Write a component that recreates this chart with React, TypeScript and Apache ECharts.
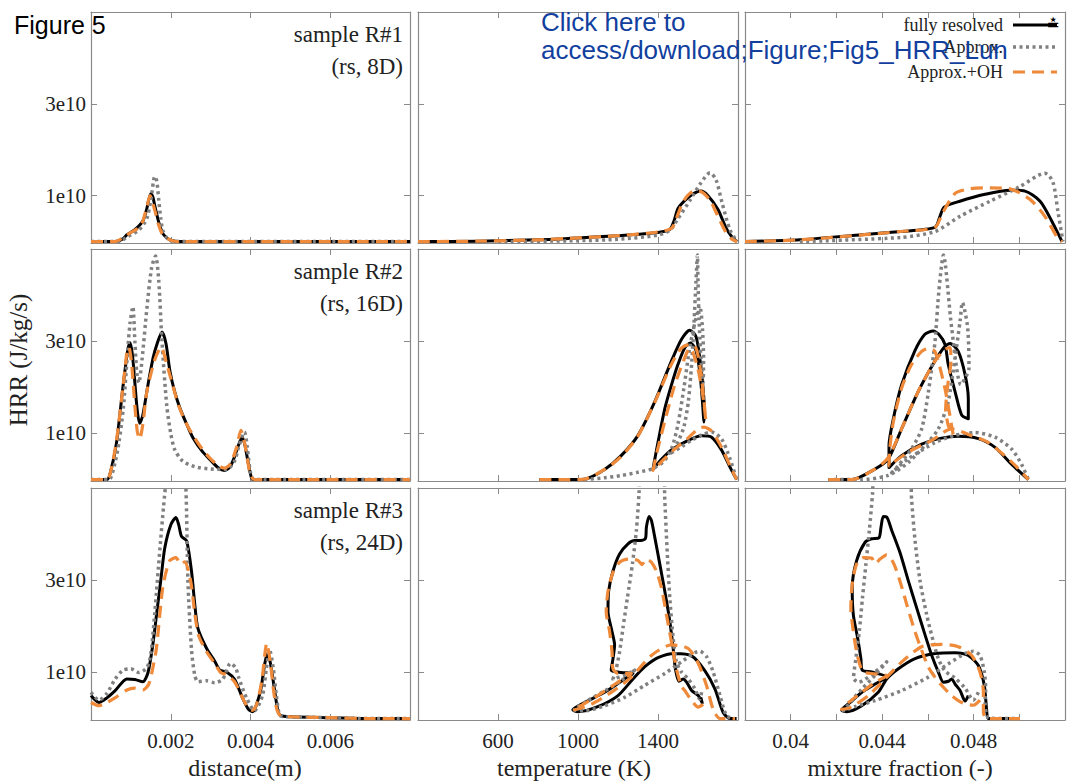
import React, { useEffect, useRef } from "react";
import * as echarts from "echarts";

type P = [number, number];

// HRR values below are written in units of 1e10 J/kg/s
const HRR_UNIT = 1e10;

// ---------- sample R#1 ----------
const r1DistFull: P[] = [[0,0],[0.0006,0],[0.0008,0.06],[0.0009,0.15],[0.0011,0.26],[0.0013,0.45],[0.0014,0.72],[0.0015,1.05],[0.00155,0.98],[0.0016,0.78],[0.0017,0.42],[0.0018,0.18],[0.0019,0.08],[0.002,0.03],[0.0022,0],[0.008,0]];
const r1DistApprox: P[] = [[0,0],[0.0007,0],[0.0009,0.1],[0.0012,0.25],[0.0014,0.5],[0.0015,0.9],[0.0016,1.42],[0.00165,1.32],[0.0017,0.9],[0.00175,0.5],[0.0018,0.25],[0.0019,0.08],[0.002,0.02],[0.0022,0],[0.008,0]];
const r1DistOH: P[] = [[0,0],[0.0006,0],[0.0008,0.08],[0.001,0.2],[0.0012,0.3],[0.0013,0.45],[0.0014,0.75],[0.00148,1.0],[0.0016,0.68],[0.0017,0.35],[0.0018,0.15],[0.002,0.03],[0.0022,0],[0.008,0]];

const r1TempFull: P[] = [[200,0],[500,0.01],[800,0.04],[1000,0.08],[1200,0.13],[1400,0.2],[1460,0.27],[1480,0.45],[1500,0.72],[1540,0.92],[1580,1.05],[1614,1.1],[1650,1.0],[1700,0.7],[1740,0.3],[1770,0.1],[1795,0]];
const r1TempApprox: P[] = [[600,0],[1000,0.02],[1200,0.05],[1400,0.14],[1460,0.25],[1500,0.5],[1560,0.9],[1610,1.25],[1660,1.5],[1690,1.35],[1720,0.85],[1760,0.25],[1795,0]];
const r1TempOH: P[] = [[200,0],[500,0.01],[800,0.04],[1000,0.08],[1200,0.13],[1400,0.21],[1470,0.3],[1500,0.6],[1530,0.9],[1580,1.1],[1620,1.08],[1660,0.9],[1700,0.55],[1740,0.2],[1770,0.05],[1795,0]];

const r1ZFull: P[] = [[0.038,0],[0.0404,0.04],[0.0426,0.13],[0.0448,0.22],[0.04631,0.31],[0.04653,0.55],[0.04671,0.75],[0.0474,0.88],[0.0485,1.03],[0.04959,1.12],[0.05025,1.1],[0.05091,0.88],[0.05143,0.44],[0.05187,0]];
const r1ZApprox: P[] = [[0.0404,0],[0.0448,0.09],[0.04631,0.22],[0.0474,0.55],[0.04872,0.88],[0.05003,1.2],[0.05112,1.49],[0.05147,1.3],[0.05169,0.66],[0.05191,0]];
const r1ZOH: P[] = [[0.038,0],[0.0404,0.04],[0.0448,0.22],[0.04631,0.31],[0.04662,0.6],[0.04719,1.05],[0.04784,1.15],[0.04872,1.17],[0.04959,1.15],[0.05047,0.92],[0.05112,0.55],[0.05169,0.07],[0.05187,0]];

// ---------- sample R#2 ----------
const r2DistFull: P[] = [[0,0],[0.0004,0],[0.0005,0.2],[0.00064,0.8],[0.0008,2.0],[0.00092,2.8],[0.00098,2.97],[0.00104,2.7],[0.0011,2.1],[0.00116,1.5],[0.00122,1.22],[0.0013,1.4],[0.00143,2.06],[0.00156,2.65],[0.00166,2.95],[0.00178,3.2],[0.00188,2.95],[0.00198,2.35],[0.0021,1.9],[0.00223,1.55],[0.0024,1.2],[0.00256,0.9],[0.0028,0.6],[0.003,0.42],[0.0032,0.25],[0.00335,0.2],[0.00348,0.27],[0.00358,0.45],[0.0037,0.75],[0.00379,0.92],[0.00386,0.75],[0.00393,0.42],[0.004,0.12],[0.00406,0],[0.008,0]];
const r2DistApprox: P[] = [[0,0],[0.00045,0],[0.0005,0.05],[0.0006,0.35],[0.0007,0.8],[0.00081,1.54],[0.00092,2.8],[0.00098,3.4],[0.00105,3.75],[0.0011,3.0],[0.00115,2.3],[0.0012,2.1],[0.00128,2.6],[0.0014,3.7],[0.00152,4.6],[0.00162,4.85],[0.0017,4.3],[0.00178,3.0],[0.0019,1.6],[0.002,1.0],[0.0021,0.65],[0.0023,0.4],[0.0026,0.28],[0.003,0.23],[0.0034,0.22],[0.0036,0.4],[0.0037,0.7],[0.00385,1.03],[0.00392,0.7],[0.004,0.15],[0.0041,0],[0.008,0]];
const r2DistOH: P[] = [[0,0],[0.0004,0],[0.0005,0.2],[0.00064,0.85],[0.0008,2.0],[0.0009,2.75],[0.00095,2.87],[0.00102,2.5],[0.0011,1.6],[0.00116,1.05],[0.00122,0.88],[0.0013,1.2],[0.0014,1.9],[0.0016,2.6],[0.00176,2.87],[0.0019,2.5],[0.002,2.2],[0.0022,1.6],[0.0024,1.2],[0.0026,0.9],[0.0028,0.65],[0.003,0.45],[0.0032,0.3],[0.00335,0.25],[0.0035,0.35],[0.00365,0.7],[0.00376,1.07],[0.00385,0.8],[0.00393,0.4],[0.004,0.1],[0.0041,0],[0.008,0]];

const r2TempFull: P[] = [[807,0],[950,0],[1032,0.01],[1133,0.22],[1216,0.52],[1300,0.96],[1384,1.69],[1467,2.57],[1517,3.04],[1559,3.24],[1590,3.1],[1610,2.6],[1625,2.0],[1632,1.5],[1630,1.25],[1622,1.7],[1610,2.3],[1590,2.8],[1562,2.96],[1534,2.86],[1500,2.5],[1467,2.05],[1434,1.54],[1400,0.81],[1382,0.4],[1375,0.23],[1420,0.45],[1467,0.64],[1551,0.85],[1618,0.95],[1668,0.92],[1718,0.64],[1760,0.27],[1793,0]];
const r2TempApprox: P[] = [[1032,0],[1133,0.04],[1216,0.09],[1300,0.16],[1375,0.24],[1430,0.4],[1470,0.7],[1500,1.2],[1530,2.0],[1560,2.9],[1590,3.5],[1609,3.77],[1622,3.3],[1628,2.6],[1625,2.1],[1615,2.6],[1605,3.5],[1600,4.3],[1597,4.87],[1590,4.3],[1580,3.4],[1568,2.5],[1552,1.7],[1530,1.15],[1500,0.82],[1467,0.58],[1520,0.72],[1570,0.86],[1620,0.97],[1668,1.03],[1718,0.88],[1760,0.45],[1793,0]];
const r2TempOH: P[] = [[807,0],[950,0],[1032,0.01],[1133,0.22],[1216,0.5],[1300,0.95],[1384,1.68],[1467,2.5],[1517,2.85],[1559,2.93],[1590,2.85],[1615,2.3],[1630,1.7],[1639,1.29],[1625,1.8],[1600,2.4],[1575,2.75],[1559,2.85],[1530,2.6],[1480,2.0],[1430,1.2],[1395,0.6],[1380,0.3],[1375,0.2],[1420,0.4],[1480,0.65],[1550,0.9],[1600,1.1],[1630,1.14],[1668,1.05],[1718,0.7],[1760,0.3],[1793,0]];

const r2ZFull: P[] = [[0.04165,0],[0.04267,0],[0.04369,0.23],[0.04427,0.45],[0.04485,1.1],[0.04558,1.91],[0.04631,2.57],[0.04675,2.89],[0.04697,2.95],[0.04733,2.78],[0.04763,2.27],[0.04777,1.75],[0.04777,1.32],[0.04748,1.4],[0.04719,1.91],[0.04689,2.5],[0.04675,2.93],[0.04648,3.15],[0.04623,3.22],[0.04587,3.15],[0.04543,2.79],[0.04485,2.05],[0.04449,1.32],[0.0443,0.74],[0.0443,0.26],[0.04485,0.52],[0.04573,0.77],[0.0466,0.9],[0.04733,0.94],[0.04821,0.89],[0.04894,0.7],[0.04967,0.33],[0.0504,0]];
const r2ZApprox: P[] = [[0.0419,0],[0.04305,0],[0.04427,0.09],[0.04514,0.37],[0.04587,0.74],[0.04646,1.1],[0.04689,1.69],[0.04719,2.64],[0.04741,3.44],[0.04751,3.84],[0.04774,3.3],[0.0478,2.42],[0.04744,2.06],[0.04704,3.3],[0.04668,4.87],[0.04648,4.08],[0.04631,2.98],[0.04602,1.89],[0.04573,1.1],[0.04529,0.67],[0.0447,0.3],[0.04442,0.15],[0.04514,0.45],[0.04631,0.8],[0.04719,0.96],[0.04806,1.02],[0.04894,0.92],[0.04967,0.66],[0.0501,0.33],[0.0504,0]];
const r2ZOH: P[] = [[0.04165,0],[0.04267,0],[0.04369,0.23],[0.04427,0.48],[0.04485,1.1],[0.04558,1.91],[0.04631,2.57],[0.04675,2.82],[0.04697,2.86],[0.04701,2.57],[0.04687,2.05],[0.04678,1.54],[0.04689,1.18],[0.04711,0.96],[0.04675,1.97],[0.04631,2.78],[0.04602,2.84],[0.04573,2.78],[0.04529,2.5],[0.04485,1.98],[0.04449,1.25],[0.04434,0.7],[0.0443,0.3],[0.04515,0.6],[0.04617,0.85],[0.04704,1.1],[0.04777,0.98],[0.04865,0.8],[0.04967,0.38],[0.0504,0]];

// ---------- sample R#3 ----------
const r3DistFull: P[] = [[0,0.5],[0.0002,0.35],[0.0004,0.45],[0.0006,0.6],[0.0009,0.86],[0.0011,0.85],[0.0013,0.8],[0.00143,1.0],[0.00155,1.6],[0.00165,2.3],[0.00175,3.0],[0.00185,3.7],[0.002,4.2],[0.00213,4.36],[0.0022,4.2],[0.00227,3.95],[0.0024,3.85],[0.00252,3.2],[0.0026,2.5],[0.00268,1.96],[0.0029,1.52],[0.0031,1.25],[0.00323,1.05],[0.0034,1.01],[0.0036,0.85],[0.0038,0.45],[0.00395,0.2],[0.00406,0.15],[0.00415,0.3],[0.00426,0.64],[0.00436,1.2],[0.00443,1.41],[0.0045,1.2],[0.0046,0.64],[0.00468,0.2],[0.00475,0.07],[0.005,0.04],[0.006,0.02],[0.007,0],[0.008,0]];
const r3DistApprox: P[] = [[0,0.57],[0.0002,0.4],[0.0004,0.55],[0.0006,0.85],[0.0008,1.05],[0.001,1.08],[0.0012,1.0],[0.0014,1.1],[0.0015,1.4],[0.0016,2.3],[0.00173,3.7],[0.00182,4.6],[0.0019,5.3],[0.002,5.9],[0.00215,6.1],[0.0023,5.8],[0.00238,5.0],[0.00243,3.0],[0.00252,1.5],[0.0026,0.95],[0.00268,0.8],[0.0029,0.82],[0.0031,0.78],[0.0033,0.85],[0.0035,1.2],[0.00363,1.1],[0.0037,0.9],[0.0039,0.45],[0.0041,0.17],[0.0043,0.5],[0.0044,1.1],[0.00448,1.49],[0.00457,1.1],[0.00465,0.5],[0.00475,0.06],[0.005,0.04],[0.006,0.02],[0.007,0],[0.008,0]];
const r3DistOH: P[] = [[0,0.35],[0.0002,0.28],[0.0004,0.35],[0.0006,0.45],[0.0009,0.62],[0.0011,0.66],[0.0013,0.62],[0.00145,0.75],[0.00155,1.1],[0.00164,1.52],[0.0018,2.84],[0.00197,3.42],[0.00213,3.49],[0.00225,3.35],[0.00235,3.4],[0.0025,2.98],[0.0026,2.3],[0.0027,1.8],[0.0029,1.45],[0.0031,1.2],[0.00325,1.0],[0.0034,0.95],[0.0036,0.8],[0.0038,0.45],[0.00395,0.22],[0.00405,0.18],[0.00415,0.3],[0.00428,0.8],[0.00441,1.63],[0.0045,1.2],[0.00458,0.6],[0.00466,0.2],[0.00475,0.07],[0.005,0.04],[0.006,0.02],[0.007,0],[0.008,0]];

const r3TempFull: P[] = [[1614,0.46],[1621,0.34],[1601,0.5],[1568,0.61],[1543,0.79],[1526,0.86],[1504,0.81],[1487,1.08],[1476,1.52],[1459,2.11],[1434,2.76],[1409,3.35],[1384,3.93],[1367,4.3],[1355,4.38],[1342,4.15],[1337,3.9],[1308,3.86],[1283,3.86],[1250,3.79],[1208,3.57],[1175,3.2],[1153,2.76],[1150,2.32],[1170,1.89],[1183,1.6],[1175,1.3],[1166,1.05],[1216,1.0],[1275,0.98],[1233,0.86],[1133,0.57],[1033,0.35],[974,0.19],[999,0.15],[1099,0.26],[1200,0.5],[1275,0.86],[1333,1.12],[1400,1.32],[1484,1.41],[1568,1.36],[1634,1.04],[1685,0.64],[1726,0.13],[1760,0],[1793,0]];
const r3TempApprox: P[] = [[1618,0.57],[1609,0.42],[1584,0.65],[1551,0.86],[1517,1.01],[1492,1.23],[1476,1.74],[1459,2.62],[1445,3.71],[1434,4.74],[1425,5.6],[1370,6.05],[1313,5.6],[1305,4.88],[1292,4.08],[1272,3.35],[1247,2.62],[1225,1.97],[1208,1.45],[1191,1.08],[1175,0.86],[1233,0.94],[1283,1.05],[1216,0.82],[1133,0.6],[1049,0.39],[982,0.19],[1033,0.17],[1133,0.28],[1233,0.46],[1333,0.72],[1434,0.98],[1517,1.23],[1584,1.43],[1609,1.46],[1643,1.34],[1676,1.01],[1710,0.5],[1743,0.06],[1785,0]];
const r3TempOH: P[] = [[1626,0.31],[1601,0.25],[1559,0.45],[1534,0.61],[1517,0.7],[1492,1.08],[1467,1.67],[1442,2.26],[1417,2.84],[1392,3.2],[1367,3.39],[1342,3.46],[1320,3.34],[1300,3.43],[1250,3.46],[1208,3.39],[1175,3.17],[1150,2.76],[1141,2.32],[1158,1.89],[1170,1.45],[1175,1.08],[1200,0.98],[1267,0.98],[1200,0.79],[1099,0.5],[999,0.24],[974,0.18],[1066,0.31],[1166,0.57],[1267,0.9],[1367,1.37],[1467,1.6],[1551,1.52],[1601,1.2],[1643,0.71],[1676,0.2],[1710,0],[1785,0]];

const r3ZFull: P[] = [[0.04777,0.5],[0.04763,0.38],[0.04741,0.61],[0.04719,0.75],[0.04704,0.86],[0.0469,0.81],[0.04668,0.79],[0.04646,1.01],[0.04617,1.37],[0.04588,1.81],[0.04551,2.4],[0.04515,2.98],[0.04478,3.6],[0.04442,4.08],[0.0442,4.37],[0.04405,4.38],[0.04395,4.15],[0.04386,3.92],[0.04354,3.9],[0.04325,3.82],[0.04288,3.42],[0.04269,2.84],[0.04274,2.25],[0.04293,1.74],[0.04307,1.3],[0.04313,1.05],[0.04354,1.01],[0.0442,0.9],[0.04369,0.75],[0.04311,0.57],[0.0426,0.35],[0.04223,0.18],[0.04245,0.15],[0.04311,0.28],[0.04383,0.57],[0.0442,0.86],[0.04471,1.08],[0.04544,1.3],[0.04631,1.41],[0.04719,1.43],[0.04777,1.37],[0.04821,1.15],[0.04847,0.72],[0.04857,0.2],[0.04865,0],[0.04923,0],[0.05003,0]];
const r3ZApprox: P[] = [[0.04821,0.57],[0.04799,0.4],[0.04763,0.66],[0.04719,0.88],[0.04675,1.03],[0.04646,1.3],[0.04624,1.67],[0.04595,2.25],[0.04566,2.98],[0.04544,3.86],[0.04529,4.74],[0.04518,5.6],[0.04442,6.2],[0.04367,5.6],[0.04358,4.88],[0.04344,4.08],[0.04329,3.35],[0.04314,2.62],[0.043,1.89],[0.04285,1.3],[0.04275,0.88],[0.04296,0.79],[0.04369,1.01],[0.0442,1.23],[0.04369,0.94],[0.04311,0.64],[0.0426,0.35],[0.0423,0.17],[0.04281,0.26],[0.04369,0.39],[0.04486,0.61],[0.04602,0.9],[0.0469,1.19],[0.04763,1.41],[0.04799,1.46],[0.04828,1.37],[0.04847,1.01],[0.04853,0.64],[0.0485,0.35],[0.04865,0.02],[0.04923,0],[0.05003,0]];
const r3ZOH: P[] = [[0.04828,0.4],[0.04799,0.29],[0.04748,0.35],[0.04704,0.5],[0.04668,0.68],[0.04631,0.9],[0.04602,1.12],[0.04573,1.48],[0.04544,1.88],[0.04508,2.47],[0.04478,2.98],[0.04449,3.38],[0.0442,3.55],[0.04391,3.46],[0.04371,3.36],[0.04354,3.48],[0.04318,3.49],[0.04288,3.35],[0.04269,2.9],[0.04263,2.39],[0.04274,1.89],[0.04288,1.45],[0.04303,1.16],[0.04318,1.01],[0.04369,0.97],[0.0442,0.93],[0.04369,0.79],[0.04311,0.57],[0.04253,0.35],[0.04223,0.2],[0.0426,0.24],[0.0434,0.5],[0.04413,0.86],[0.04486,1.23],[0.04573,1.56],[0.0466,1.61],[0.04733,1.56],[0.04792,1.37],[0.04828,1.01],[0.04843,0.57],[0.04843,0.13],[0.04857,0],[0.04923,0],[0.05003,0]];

// ---------- labels ----------
const seriesNames = ["fully resolved", "Approx.", "Approx.+OH"];
const sampleTitles = [["sample R#1", "(rs, 8D)"], ["sample R#2", "(rs, 16D)"], ["sample R#3", "(rs, 24D)"]];
const xNames = ["distance(m)", "temperature (K)", "mixture fraction (-)"];
const yName = "HRR (J/kg/s)";
const yTickValues = [1e10, 3e10];
const zTickLabels = [0.04, 0.044, 0.048];

const panelData: P[][][][] = [
  [[r1DistFull, r1DistApprox, r1DistOH], [r1TempFull, r1TempApprox, r1TempOH], [r1ZFull, r1ZApprox, r1ZOH]],
  [[r2DistFull, r2DistApprox, r2DistOH], [r2TempFull, r2TempApprox, r2TempOH], [r2ZFull, r2ZApprox, r2ZOH]],
  [[r3DistFull, r3DistApprox, r3DistOH], [r3TempFull, r3TempApprox, r3TempOH], [r3ZFull, r3ZApprox, r3ZOH]],
];

// ---------- layout / style ----------
const COL_LEFT = [91, 418, 745];
const COL_W = [319, 320, 320];
const ROW_TOP = [12, 249, 488];
const ROW_H = [231, 232, 232];
const FRAME = "#8a8a8a";
const SERIF = "Liberation Serif";
const SANS = "Liberation Sans";
const LINE_STYLES = [
  { color: "#000000", width: 3, type: "solid" as any },
  { color: "#808080", width: 3.5, type: [3, 3.5] as any },
  { color: "#ee8a3a", width: 3.2, type: [12, 7] as any },
];

const xCfg = [
  { min: 0, max: 0.008, interval: 0.002, fmt: (v: number) => v.toFixed(3) },
  { min: 200, max: 1800, interval: 400, fmt: (v: number) => String(Math.round(v)) },
  {
    min: 0.038, max: 0.052, interval: 0.002,
    fmt: (v: number) => {
      const hit = zTickLabels.find((t) => Math.abs(t - v) < 1e-7);
      return hit === undefined ? "" : String(hit);
    },
  },
];

function buildOption() {
  const grid: any[] = [];
  const xAxis: any[] = [];
  const yAxis: any[] = [];
  const series: any[] = [];
  for (let r = 0; r < 3; r++) {
    for (let c = 0; c < 3; c++) {
      const g = r * 3 + c;
      grid.push({ left: COL_LEFT[c], top: ROW_TOP[r], width: COL_W[c], height: ROW_H[r], containLabel: false });
      const cfg = xCfg[c];
      const tick = { show: true, inside: true, length: 6, lineStyle: { color: FRAME, width: 1 } };
      const line = { show: true, onZero: false, lineStyle: { color: FRAME, width: 1.2 } };
      for (const pos of ["bottom", "top"]) {
        xAxis.push({
          type: "value", gridIndex: g, position: pos, min: cfg.min, max: cfg.max, interval: cfg.interval,
          axisLine: line, axisTick: tick, splitLine: { show: false },
          axisLabel: {
            show: pos === "bottom" && r === 2, showMinLabel: false, showMaxLabel: false,
            formatter: cfg.fmt, fontFamily: SERIF, fontSize: 21, color: "#222", margin: 10,
          },
        });
      }
      for (const pos of ["left", "right"]) {
        yAxis.push({
          type: "value", gridIndex: g, position: pos, min: -0.03 * HRR_UNIT, max: 5 * HRR_UNIT,
          axisLine: line, splitLine: { show: false },
          axisTick: { ...tick, customValues: yTickValues },
          axisLabel: {
            show: pos === "left" && c === 0, customValues: yTickValues,
            formatter: (v: number) => `${Math.round(v / HRR_UNIT)}e10`,
            fontFamily: SERIF, fontSize: 21, color: "#222", margin: 5,
          },
        });
      }
      panelData[r][c].forEach((pts, k) => {
        series.push({
          type: "line", name: seriesNames[k], xAxisIndex: g * 2, yAxisIndex: g * 2,
          data: pts.map(([x, y]) => [x, y * HRR_UNIT]),
          showSymbol: false, symbol: "none", smooth: 0.25, clip: true,
          lineStyle: { ...LINE_STYLES[k], cap: "butt", join: "round" }, z: 2 + k,
        });
      });
    }
  }

  const graphic: any[] = [];
  const text = (x: number, y: number, t: string, o: any = {}) => ({
    type: "text", x, y, silent: true, z: o.z ?? 50, rotation: o.rotation ?? 0,
    style: {
      text: t, fill: o.fill ?? "#222", fontFamily: o.font ?? SERIF, fontSize: o.size ?? 22,
      textAlign: o.align ?? "left", textVerticalAlign: "middle",
    },
  });
  // sample annotations
  for (let r = 0; r < 3; r++) {
    graphic.push(text(403, ROW_TOP[r] + 22, sampleTitles[r][0], { align: "right", size: 23 }));
    graphic.push(text(403, ROW_TOP[r] + 54, sampleTitles[r][1], { align: "right", size: 23 }));
  }
  // axis names
  const xNameCenters = [245, 574, 900];
  xNames.forEach((n, i) => graphic.push(text(xNameCenters[i], 768, n, { align: "center", size: 24 })));
  graphic.push(text(18, 360, yName, { align: "center", size: 25, rotation: Math.PI / 2 }));
  // legend
  const legendY = [25, 47, 72];
  seriesNames.forEach((n, k) => {
    graphic.push(text(1003, legendY[k], n, { align: "right", size: 18 }));
    graphic.push({
      type: "line", silent: true, z: 50,
      shape: { x1: 1013, y1: legendY[k], x2: 1057, y2: legendY[k] },
      style: { stroke: LINE_STYLES[k].color, lineWidth: LINE_STYLES[k].width, lineDash: k === 0 ? null : LINE_STYLES[k].type },
    });
  });
  graphic.push(text(1053, 24, "≛", { font: "DejaVu Sans", size: 16, fill: "#000", align: "center", z: 55 }));
  // figure label and overlaid link text
  graphic.push(text(14, 25, "Figure 5", { font: SANS, size: 25, fill: "#000", z: 60 }));
  graphic.push(text(541, 22, "Click here to", { font: SANS, size: 26, fill: "#123f9e", z: 60 }));
  graphic.push(text(541, 50, "access/download;Figure;Fig5_HRR_Lun", { font: SANS, size: 26, fill: "#123f9e", z: 60 }));

  return { animation: false, backgroundColor: "#ffffff", grid, xAxis, yAxis, series, graphic };
}

export default function App() {
  const ref = useRef<HTMLDivElement>(null);
  useEffect(() => {
    if (!ref.current) return;
    const chart = echarts.init(ref.current, undefined, { renderer: "svg" });
    chart.setOption(buildOption() as any);
    return () => chart.dispose();
  }, []);
  return (
    <div
      ref={ref}
      style={{ position: "fixed", left: 0, top: 0, width: 1078, height: 784, background: "#fff" }}
    />
  );
}
